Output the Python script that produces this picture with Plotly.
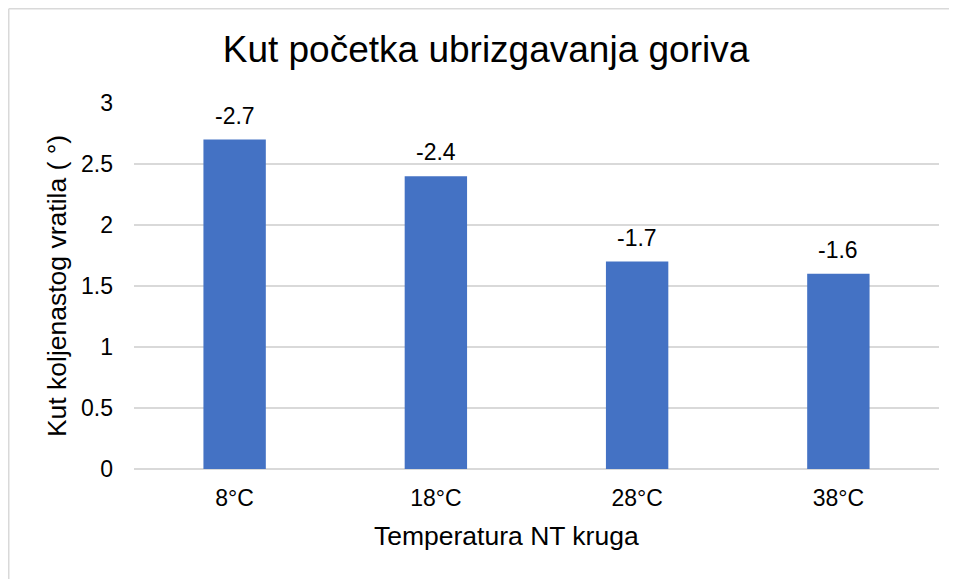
import plotly.graph_objects as go

categories = ["8°C", "18°C", "28°C", "38°C"]
values = [2.7, 2.4, 1.7, 1.6]
labels = ["-2.7", "-2.4", "-1.7", "-1.6"]
y_ticks = [0, 0.5, 1, 1.5, 2, 2.5, 3]
y_ticktext = ["0", "0.5", "1", "1.5", "2", "2.5", "3"]

# page body has an 8px margin, so the figure is sized/placed to compensate
W, H = 949, 571
L, R, T, B = 126, 18, 95, 110
pw, ph = W - L - R, H - T - B
FONT = "Liberation Sans, Arial, sans-serif"

fig = go.Figure()
fig.add_trace(go.Bar(x=categories, y=values, marker_color="#4472C4",
                     marker_line_width=0, width=0.31, hoverinfo="skip"))

for c, v, t in zip(categories, values, labels):
    fig.add_annotation(x=c, y=v, text=t, showarrow=False, yanchor="bottom",
                       yshift=9, font=dict(size=23, color="#000000", family=FONT))

# x-axis title (centred on the whole chart area, as in the original)
fig.add_annotation(text="Temperatura NT kruga", xref="paper", yref="paper",
                   x=(498.5 - L) / pw, y=-(528 - (H - B)) / ph,
                   xanchor="center", yanchor="middle", showarrow=False,
                   font=dict(size=26.5, color="#000000", family=FONT))

# chart area border (top and left visible)
bx = (0.75 - L) / pw
by = (H - B - 0.75) / ph
fig.add_shape(type="line", xref="paper", yref="paper", x0=bx, x1=bx, y0=-1, y1=by,
              line=dict(color="#D9D9D9", width=1.5))
fig.add_shape(type="line", xref="paper", yref="paper", x0=bx, x1=2, y0=by, y1=by,
              line=dict(color="#D9D9D9", width=1.5))

fig.update_layout(
    width=W, height=H,
    margin=dict(l=L, r=R, t=T, b=B),
    paper_bgcolor="white", plot_bgcolor="white",
    font=dict(family=FONT, color="#000000"),
    title=dict(text="Kut početka ubrizgavanja goriva", x=478 / W, xanchor="center",
               y=1 - 41 / H, yanchor="middle", font=dict(size=37, color="#000000")),
    showlegend=False,
    xaxis=dict(showgrid=False, showline=False, zeroline=False, ticks="",
               tickfont=dict(size=23), ticklabelstandoff=13),
    yaxis=dict(range=[0, 3], tickvals=y_ticks, ticktext=y_ticktext,
               showgrid=True, gridcolor="#D9D9D9", gridwidth=1.5,
               zeroline=True, zerolinecolor="#D9D9D9", zerolinewidth=1.5,
               showline=False, ticks="", tickfont=dict(size=23), ticklabelstandoff=20,
               title=dict(text="Kut koljenastog vratila ( °)", font=dict(size=26.5), standoff=6)),
)

fig.write_html("out.html")
